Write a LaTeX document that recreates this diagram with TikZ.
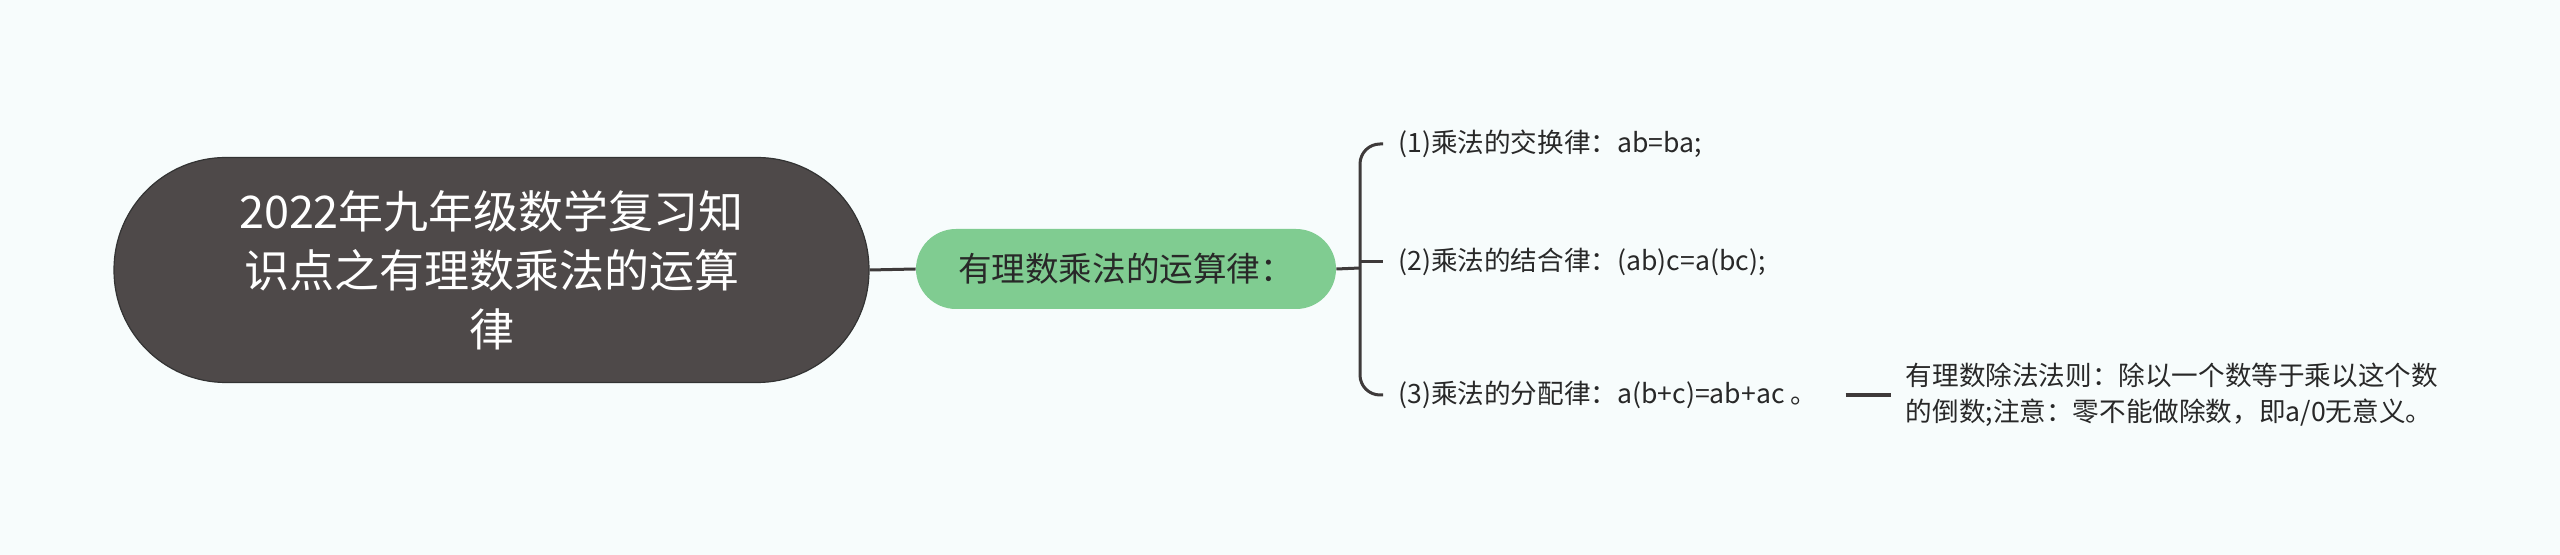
\documentclass[tikz,border=0pt]{standalone}
\usepackage{fontspec}
\setmainfont{Noto Sans CJK SC}
\usepackage{tikz}
\usetikzlibrary{positioning}

\definecolor{bgcol}{RGB}{247,252,252}
\definecolor{rootcol}{RGB}{78,73,73}
\definecolor{subcol}{RGB}{128,204,145}
\definecolor{linecol}{RGB}{62,58,58}
\definecolor{txtcol}{RGB}{40,40,40}

\begin{document}
\begin{tikzpicture}[x=0.5pt,y=-0.5pt,
  rootbox/.style={fill=rootcol,draw=black!80,line width=0.6pt,rounded corners=56pt,
    minimum width=377.5pt,minimum height=112.5pt,text=white,align=center,
    font=\fontsize{22.5}{29.5}\selectfont},
  subbox/.style={fill=subcol,rounded corners=20pt,minimum width=210pt,minimum height=40pt,
    text=txtcol,font=\fontsize{16.8}{20}\selectfont},
  leafbox/.style={anchor=west,inner xsep=7.5pt,text=txtcol,align=left,
    font=\fontsize{13.3}{18}\selectfont},
  link/.style={draw=linecol,line width=1.5pt}]
% background
\fill[bgcol] (0,0) rectangle (2560,555);

% root and main branch
\node[rootbox] (root) at (491.5,270) {2022年九年级数学复习知\\识点之有理数乘法的运算\\律};
\node[subbox] (sub) at (1126,269) {有理数乘法的运算律：};
\draw[link] (root.east) -- (sub.west);

% three laws
\coordinate (j) at (1360,268);
\node[leafbox] (c1) at (1383,144) {(1)乘法的交换律：ab=ba;};
\node[leafbox] (c2) at (1383,262) {(2)乘法的结合律：(ab)c=a(bc);};
\node[leafbox] (c3) at (1383,395) {(3)乘法的分配律：a(b+c)=ab+ac 。};
\draw[link] (sub.east) -- (j);
\draw[link,rounded corners=10pt] (c1.west) -| (j) |- (c3.west);
\draw[link] (j |- c2.west) -- (c2.west);

% division rule
\node[leafbox,right=29pt of c3] (leaf) {有理数除法法则：除以一个数等于乘以这个数\\的倒数;注意：零不能做除数，即a/0无意义。};
\draw[link,line width=1.8pt,shorten <=6.5pt] (c3.east) -- (leaf.west);
\end{tikzpicture}
\end{document}
